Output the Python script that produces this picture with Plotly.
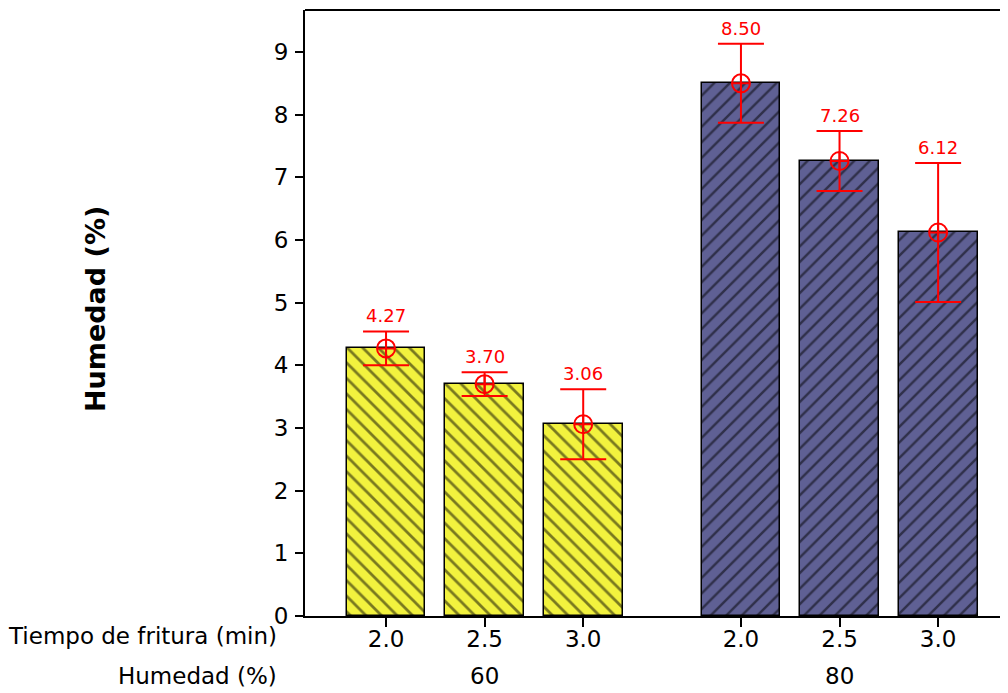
import plotly.graph_objects as go

tiempo = ["2.0", "2.5", "3.0", "2.0", "2.5", "3.0"]
humedad_group = ["60", "80"]
values = [4.27, 3.70, 3.06, 8.50, 7.26, 6.12]
errors = [0.27, 0.19, 0.56, 0.63, 0.48, 1.11]
labels = ["4.27", "3.70", "3.06", "8.50", "7.26", "6.12"]
xpos = [0, 1, 2, 3.6, 4.6, 5.6]
group_index = [0, 0, 0, 1, 1, 1]

FONT = "DejaVu Sans"
yellow = "#f2f23e"
blue = "#5f6094"

fig = go.Figure()

fig.add_trace(go.Bar(
    x=xpos[:3], y=values[:3], width=0.8,
    marker=dict(color=yellow, line=dict(color="black", width=1.5),
                pattern=dict(shape="\\", fgcolor="black", bgcolor=yellow, size=11, solidity=0.25)),
    showlegend=False, hoverinfo="skip"))
fig.add_trace(go.Bar(
    x=xpos[3:], y=values[3:], width=0.8,
    marker=dict(color=blue, line=dict(color="black", width=1.5),
                pattern=dict(shape="/", fgcolor="black", bgcolor=blue, size=11, solidity=0.22)),
    showlegend=False, hoverinfo="skip"))

fig.add_trace(go.Scatter(
    x=xpos, y=values, mode="markers",
    marker=dict(symbol="circle-cross-open", size=18, color="red", line=dict(width=2, color="red")),
    error_y=dict(type="data", array=errors, visible=True, color="red", thickness=2, width=23),
    showlegend=False, hoverinfo="skip"))

for x, v, e, lab in zip(xpos, values, errors, labels):
    fig.add_annotation(x=x, y=v + e, text=lab, showarrow=False, yanchor="bottom", yshift=3,
                       font=dict(family=FONT, size=18, color="red"))

# Second row of category labels
for gi, g in enumerate(humedad_group):
    xs = [x for x, k in zip(xpos, group_index) if k == gi]
    fig.add_annotation(x=sum(xs) / len(xs), y=0, yref="paper", text=g, showarrow=False,
                       yanchor="top", yshift=-45, font=dict(family=FONT, size=23, color="black"))

fig.add_annotation(x=0, xref="paper", xanchor="right", xshift=-26, y=0, yref="paper", yanchor="top",
                   yshift=-5, text="Tiempo de fritura (min)", showarrow=False,
                   font=dict(family=FONT, size=23, color="black"))
fig.add_annotation(x=0, xref="paper", xanchor="right", xshift=-26, y=0, yref="paper", yanchor="top",
                   yshift=-45, text="Humedad (%)", showarrow=False,
                   font=dict(family=FONT, size=23, color="black"))

# y-axis title
fig.add_annotation(x=0, xref="paper", xanchor="center", xshift=-210, y=0.5066, yref="paper",
                   yanchor="middle", textangle=-90, text="<b>Humedad (%)</b>", showarrow=False,
                   font=dict(family=FONT, size=27, color="black"))

# top border line
fig.add_shape(type="line", xref="paper", yref="paper", x0=0, x1=1, y0=1, y1=1,
              line=dict(color="black", width=2))

fig.update_layout(
    width=1008, height=693,
    margin=dict(l=297, r=0, t=2, b=85),
    plot_bgcolor="white", paper_bgcolor="white",
    font=dict(family=FONT, size=23, color="black"),
    bargap=0,
    xaxis=dict(range=[-0.822, 6.39], tickvals=xpos, ticktext=tiempo, showline=True,
               linecolor="black", linewidth=2, ticks="outside", ticklen=9, tickwidth=1.5,
               tickcolor="black", showgrid=False, zeroline=False, ticklabelstandoff=-8,
               tickfont=dict(family=FONT, size=23)),
    yaxis=dict(range=[0, 9.67], tickvals=list(range(10)), showline=True, linecolor="black",
               linewidth=2, ticks="outside", ticklen=8, tickwidth=1.5, tickcolor="black",
               showgrid=False, zeroline=False, ticklabelstandoff=2,
               tickfont=dict(family=FONT, size=23)),
)

fig.write_html("out.html")
